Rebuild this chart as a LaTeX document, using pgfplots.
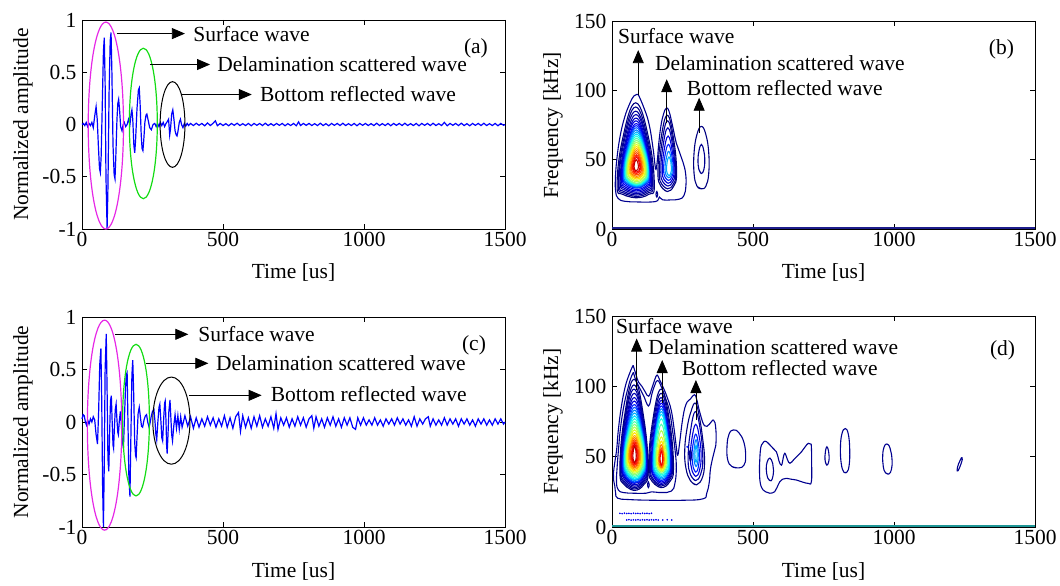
\documentclass[border=0pt]{standalone}
\usepackage{fontspec}
\setmainfont{Liberation Serif}
\usepackage{pgfplots}
\pgfplotsset{compat=1.18}
\usetikzlibrary{arrows.meta}
\newcommand{\myfont}{\fontsize{21.5}{24}\selectfont}
\definecolor{J01}{HTML}{000080}
\definecolor{J02}{HTML}{00008F}
\definecolor{J03}{HTML}{00009F}
\definecolor{J04}{HTML}{0000AF}
\definecolor{J05}{HTML}{0000C4}
\definecolor{J06}{HTML}{0000DA}
\definecolor{J07}{HTML}{0000F0}
\definecolor{J08}{HTML}{0020FF}
\definecolor{J09}{HTML}{0050FF}
\definecolor{J10}{HTML}{0080FF}
\definecolor{J11}{HTML}{00B0FF}
\definecolor{J12}{HTML}{00E0FF}
\definecolor{J13}{HTML}{20FFE0}
\definecolor{J14}{HTML}{50FFB0}
\definecolor{J15}{HTML}{80FF80}
\definecolor{J16}{HTML}{B0FF50}
\definecolor{J17}{HTML}{E0FF20}
\definecolor{J18}{HTML}{FFE000}
\definecolor{J19}{HTML}{FFB000}
\definecolor{J20}{HTML}{FF8000}
\definecolor{J21}{HTML}{FF5000}
\definecolor{J22}{HTML}{FF2000}
\definecolor{J23}{HTML}{F00000}
\definecolor{J24}{HTML}{C00000}
\definecolor{mag}{RGB}{230,40,230}
\definecolor{grn}{RGB}{20,220,20}
\definecolor{teal2}{RGB}{30,150,150}
\tikzset{
 arr/.style={-{Triangle[length=13pt,width=11pt]}, line width=0.8pt, black},
 lab/.style={font=\myfont, anchor=west, inner sep=0pt},
}
\pgfplotsset{
 base/.style={scale only axis, anchor=south west, width=423pt, xmin=0, xmax=1500,
   xtick={0,500,1000,1500}, xticklabels={0,500,1000,1500},
   tick align=inside, major tick length=5pt,
   every tick/.append style={black, line width=0.6pt},
   axis line style={black, line width=0.8pt},
   tick label style={font=\myfont}, label style={font=\myfont}, clip=false,
   xlabel={Time [us]},
   ylabel style={at={(axis description cs:-0.1395,0.5)}, anchor=center},
   yticklabel style={xshift=-2pt}},
 wave/.style={blue, line width=1.2pt, no markers},
 ct/.style={smooth, tension=0.75, line width=1.1pt, no markers},
}
\begin{document}
\begin{tikzpicture}
\path[use as bounding box] (0,0) rectangle (1060pt,586pt);
% ---------------- (a)
\begin{axis}[base, at={(82pt,357pt)}, height=209pt, ymin=-1, ymax=1,
  ytick={-1,-0.5,0,0.5,1}, yticklabels={-1,-0.5,0,0.5,1},
  ylabel={Normalized amplitude},
  xlabel style={at={(axis description cs:0.5,-0.206)}, anchor=center}]
\addplot[wave] coordinates {(0,0)(5,0.01)(10,-0.01)(15,0.02)(20,-0.02)(25,0.01)(30,-0.01)(35,0.02)(40,-0.03)(45,0.08)(50,0.17)(54,0.05)(58,-0.2)(62,-0.42)(65,-0.46)(68,-0.3)(72,0.2)(76,0.7)(79,0.83)(82,0.4)(85,-0.5)(89,-1.0)(92,-0.6)(96,0.3)(100,0.8)(103,0.88)(106,0.5)(110,-0.2)(114,-0.48)(117,-0.52)(120,-0.3)(124,0.05)(127,0.2)(130,0.24)(133,0.15)(137,-0.02)(142,-0.06)(146,0)(150,0.02)(155,-0.02)(160,0)(165,0.05)(170,0)(174,0.1)(177,0.14)(180,0.05)(184,-0.2)(187,-0.27)(190,-0.15)(195,0.15)(200,0.33)(203,0.35)(206,0.2)(210,-0.1)(213,-0.23)(216,-0.25)(219,-0.15)(223,0.02)(227,0.09)(230,0.1)(234,0.05)(240,-0.03)(246,-0.05)(252,0)(258,0.01)(263,-0.02)(268,0.01)(273,-0.02)(278,0.02)(283,-0.01)(288,0.02)(293,-0.02)(298,0.01)(303,0.03)(307,0.05)(311,-0.1)(314,-0.04)(318,0.1)(322,0.14)(326,0.05)(330,-0.06)(334,-0.1)(337,-0.11)(340,-0.07)(345,0.02)(349,0.05)(353,0)(358,-0.03)(363,0.01)(368,-0.015)(373,0.01)(378,-0.01)
(385,0.01)(395,-0.01)(405,0.012)(415,-0.008)(425,0.01)(435,-0.012)(445,0.015)(455,-0.01)(465,0.012)(473,0.035)(480,-0.012)(490,0.01)(500,-0.01)(510,0.008)(520,-0.012)(530,0.01)(540,-0.008)(550,0.012)(560,-0.01)(570,0.008)(580,-0.01)(590,0.01)(600,-0.012)(610,0.01)(620,-0.008)(630,0.01)(640,-0.01)(650,0.012)(660,-0.01)(670,0.008)(680,-0.01)(690,0.01)(700,-0.008)(710,0.01)(720,-0.012)(730,0.008)(740,-0.01)(750,0.01)(760,-0.012)(768,0.025)(775,-0.01)(785,0.01)(795,-0.008)(805,0.01)(815,-0.01)(825,0.008)(835,-0.01)(845,0.012)(855,-0.01)(865,0.008)(875,-0.012)(885,0.01)(895,-0.008)(905,0.01)(915,-0.01)(925,0.012)(935,-0.01)(945,0.008)(955,-0.01)(965,0.01)(975,-0.012)(985,0.01)(995,-0.008)(1005,0.01)(1015,-0.01)(1025,0.008)(1035,-0.01)(1045,0.012)(1055,-0.01)(1065,0.008)(1075,-0.01)(1085,0.01)(1095,-0.012)(1105,0.01)(1115,-0.008)(1125,0.01)(1135,-0.01)(1145,0.012)(1155,-0.01)(1165,0.008)(1175,-0.01)(1185,0.01)(1195,-0.012)(1205,0.01)(1215,-0.008)(1225,0.01)(1235,-0.01)(1245,0.012)(1255,-0.01)(1265,0.008)(1275,-0.01)(1285,0.02)(1295,-0.012)(1305,0.01)(1315,-0.008)(1325,0.01)(1335,-0.01)(1345,0.012)(1355,-0.01)(1365,0.008)(1375,-0.012)(1385,0.01)(1395,-0.008)(1405,0.01)(1415,-0.01)(1425,0.012)(1435,-0.01)(1445,0.008)(1455,-0.01)(1465,0.01)(1475,-0.012)(1485,0.01)(1495,-0.008)(1500,0)};
\draw[mag, line width=1.2pt] (axis cs:84.6,-0.01) ellipse [x radius=62.5, y radius=0.99];
\draw[grn, line width=1.2pt] (axis cs:217.5,0.01) ellipse [x radius=49.5, y radius=0.72];
\draw[black, line width=1.0pt] (axis cs:321,0) ellipse [x radius=44, y radius=0.41];
\draw[arr] (axis cs:123,0.87) -- (axis cs:365,0.87);
\node[lab] at (axis cs:394,0.87) {Surface wave};
\draw[arr] (axis cs:241,0.574) -- (axis cs:454,0.574);
\node[lab] at (axis cs:479,0.574) {Delamination scattered wave};
\draw[arr] (axis cs:354,0.287) -- (axis cs:602,0.287);
\node[lab] at (axis cs:631,0.287) {Bottom reflected wave};
\node[font=\myfont] at (axis cs:1397,0.727) {(a)};
\end{axis}
% ---------------- (b)
\begin{axis}[base, at={(612pt,357pt)}, height=208pt, ymin=0, ymax=150,
  ytick={0,50,100,150}, yticklabels={0,50,100,150},
  ylabel={Frequency [kHz]},
  xlabel style={at={(axis description cs:0.5,-0.207)}, anchor=center}]
\addplot[color={rgb,255:red,30;green,30;blue,140}, line width=2pt] coordinates {(0,0.7)(1500,0.7)};
\addplot[ct, J02] coordinates {(93,97)(112,88)(131,76)(145,59)(152,47)(156,43)(161,50)(166,62)(174,75)(183,83)(192,87)(202,85)(214,75)(228,62)(240,55)(252,48)(261,40)(262,31)(255,24)(238,21.5)(210,21)(180,21)(168,23)(162,20.5)(140,19.5)(90,19.5)(45,20)(22,22)(13,27)(12,36)(17,50)(28,66)(44,80)(62,90)(78,96)(93,97)};
\addplot[ct, J02] coordinates {(159,27)(162,25)(159,23)(156,25)(159,27)(162,25)};
% lobe 1
\addplot[ct, J01] coordinates {(84,22.5)(37.8,25)(18,31)(36.5,64)(84,91)(131.5,64)(150,31)(130.2,25)(84,22.5)(37.8,25)};
\addplot[ct, J02] coordinates {(84,23.5)(40.6,26)(22,32)(39.4,62.8)(84,88)(128.6,62.8)(146,32)(127.4,26)(84,23.5)(40.6,26)};
\addplot[ct, J03] coordinates {(84,24.5)(42.7,27)(25,33)(41.5,61.6)(84,85)(126.5,61.6)(143,33)(125.3,27)(84,24.5)(42.7,27)};
\addplot[ct, J04] coordinates {(85,25.5)(45.8,28)(29,34)(44.7,60.7)(85,82.5)(125.3,60.7)(141,34)(124.2,28)(85,25.5)(45.8,28)};
\addplot[ct, J05] coordinates {(85,26.5)(47.5,29)(31.5,35)(46.5,59.7)(85,80)(123.5,59.7)(138.5,35)(122.5,29)(85,26.5)(47.5,29)};
\addplot[ct, J06] coordinates {(85,27.5)(49.3,30)(34,36)(48.3,59.1)(85,78)(121.7,59.1)(136,36)(120.7,30)(85,27.5)(49.3,30)};
\addplot[ct, J07] coordinates {(86,28.5)(51.7,31)(37,37)(50.7,58.4)(86,76)(121.3,58.4)(135,37)(120.3,31)(86,28.5)(51.7,31)};
\addplot[ct, J08] coordinates {(86,29.5)(53.1,32)(39,38)(52.2,58.1)(86,74.5)(119.8,58.1)(133,38)(118.9,32)(86,29.5)(53.1,32)};
\addplot[ct, J09] coordinates {(86,30)(54.2,32.7)(40.5,39)(53.2,57.7)(86,73)(118.8,57.7)(131.5,39)(117.8,32.7)(86,30)(54.2,32.7)};
\addplot[ct, J10] coordinates {(86,30.5)(55.2,33)(42,39)(54.3,56.9)(86,71.5)(117.7,56.9)(130,39)(116.8,33)(86,30.5)(55.2,33)};
\addplot[ct, J11] coordinates {(87,31)(57.2,33.7)(44.5,40)(56.4,56.5)(87,70)(117.6,56.5)(129.5,40)(116.8,33.7)(87,31)(57.2,33.7)};
\addplot[ct, J12] coordinates {(87,31.5)(58.3,34)(46,40)(57.5,55.7)(87,68.5)(116.5,55.7)(128,40)(115.7,34)(87,31.5)(58.3,34)};
\addplot[ct, J13] coordinates {(87,32)(59.7,34.7)(48,41)(58.9,55.3)(87,67)(115.1,55.3)(126,41)(114.3,34.7)(87,32)(59.7,34.7)};
\addplot[ct, J14] coordinates {(87,32.5)(61.1,35)(50,41)(60.4,54.5)(87,65.5)(113.6,54.5)(124,41)(112.9,35)(87,32.5)(61.1,35)};
\addplot[ct, J15] coordinates {(87,33)(62.5,35.4)(52,41)(61.8,53.6)(87,64)(112.2,53.6)(122,41)(111.5,35.4)(87,33)(62.5,35.4)};
\addplot[ct, J16] coordinates {(87,34)(64.2,36.4)(54.5,42)(63.6,53.3)(87,62.5)(110.4,53.3)(119.5,42)(109.8,36.4)(87,34)(64.2,36.4)};
\addplot[ct, J17] coordinates {(87,35)(66,37.1)(57,42)(65.4,52.4)(87,61)(108.6,52.4)(117,42)(108,37.1)(87,35)(66,37.1)};
\addplot[ct, J18] coordinates {(87,36)(68.1,38.1)(60,43)(67.6,52.1)(87,59.5)(106.4,52.1)(114,43)(105.9,38.1)(87,36)(68.1,38.1)};
\addplot[ct, J19] coordinates {(87,37)(70.2,38.8)(63,43)(69.7,51.2)(87,58)(104.3,51.2)(111,43)(103.8,38.8)(87,37)(70.2,38.8)};
\addplot[ct, J20] coordinates {(87,38)(72.3,39.5)(66,43)(71.9,50.4)(87,56.5)(102.1,50.4)(108,43)(101.7,39.5)(87,38)(72.3,39.5)};
\addplot[ct, J21] coordinates {(87,39)(74.4,40.5)(69,44)(74,50)(87,55)(100,50)(105,44)(99.6,40.5)(87,39)(74.4,40.5)};
\addplot[ct, J22] coordinates {(87,40)(76.5,41.2)(72,44)(76.2,49.2)(87,53.5)(97.8,49.2)(102,44)(97.5,41.2)(87,40)(76.5,41.2)};
\addplot[ct, J23] coordinates {(87,41)(78.6,41.9)(75,44)(78.4,48.4)(87,52)(95.6,48.4)(99,44)(95.4,41.9)(87,41)(78.6,41.9)};
\addplot[ct, J24] coordinates {(86,42)(80.4,42.9)(78,45)(80.2,47.7)(86,50)(91.8,47.7)(94,45)(91.6,42.9)(86,42)(80.4,42.9)};
% lobe 2
\addplot[ct, J01] coordinates {(196,27)(173,31)(163,40)(172.2,63.1)(196,82)(219.8,63.1)(229,40)(219,31)(196,27)(173,31)};
\addplot[ct, J02] coordinates {(197,29)(176.7,32.3)(168,40)(176.1,60.9)(197,78)(217.9,60.9)(226,40)(217.3,32.3)(197,29)(176.7,32.3)};
\addplot[ct, J04] coordinates {(198,31)(180.5,34)(173,41)(180,58.6)(198,73)(216,58.6)(223,41)(215.5,34)(198,31)(180.5,34)};
\addplot[ct, J06] coordinates {(199,33)(184.3,35.7)(178,42)(183.9,55.7)(199,67)(214.1,55.7)(220,42)(213.7,35.7)(199,33)(184.3,35.7)};
\addplot[ct, J08] coordinates {(200,35)(188.1,37.4)(183,43)(187.8,52.9)(200,61)(212.2,52.9)(217,43)(211.9,37.4)(200,35)(188.1,37.4)};
\addplot[ct, J10] coordinates {(201,37)(191.9,38.8)(188,43)(191.6,50.1)(201,56)(210.4,50.1)(214,43)(210.1,38.8)(201,37)(191.9,38.8)};
\addplot[ct, J11] coordinates {(202,38.5)(195.7,40.2)(193,44)(195.5,48.4)(202,52)(208.5,48.4)(211,44)(208.3,40.2)(202,38.5)(195.7,40.2)};
% lobe 3
\addplot[ct, J01] coordinates {(317,29)(301,31)(291,40)(291,55)(301,68)(317,74)(333,68)(343,55)(343,40)(333,31)(317,29)(301,31)};
\addplot[ct, J02] coordinates {(317,40)(308,43)(305,50)(309,57)(317,61)(325,57)(329,50)(326,43)(317,40)(308,43)};
\draw[arr] (axis cs:93,96.6) -- (axis cs:93,129);
\node[lab] at (axis cs:21,139) {Surface wave};
\draw[arr] (axis cs:194,76.4) -- (axis cs:194,108);
\node[lab] at (axis cs:152,119.7) {Delamination scattered wave};
\draw[arr] (axis cs:309,69.2) -- (axis cs:309,94.7);
\node[lab] at (axis cs:265,101.7) {Bottom reflected wave};
\node[font=\myfont] at (axis cs:1381,129.8) {(b)};
\end{axis}
% ---------------- (c)
\begin{axis}[base, at={(82pt,59pt)}, height=210pt, ymin=-1, ymax=1,
  ytick={-1,-0.5,0,0.5,1}, yticklabels={-1,-0.5,0,0.5,1},
  ylabel={Normalized amplitude},
  xlabel style={at={(axis description cs:0.5,-0.21)}, anchor=center}]
\addplot[wave] coordinates {(0,0.03)(4,0.07)(8,0.06)(12,0)(16,-0.03)(20,0.02)(25,-0.02)(30,0.03)(35,0)(40,0.05)(45,0.02)(50,-0.12)(55,-0.21)(59,0.1)(63,0.55)(67,0.7)(70,0.2)(73,-0.6)(76,-1.0)(79,-0.4)(82,0.5)(86,0.84)(89,0.3)(92,-0.35)(95,-0.47)(98,-0.1)(101,0.2)(104,0.25)(107,0)(110,-0.22)(112,-0.25)(115,-0.05)(118,0.12)(121,0.17)(124,0.02)(127,-0.1)(129,-0.12)(132,0)(136,0.1)(139,0)(143,-0.18)(147,-0.25)(150,0)(154,0.3)(157,0.45)(160,0.47)(163,0)(166,-0.5)(170,-0.71)(173,-0.2)(177,0.45)(180,0.59)(183,0.3)(187,-0.2)(190,-0.32)(192,-0.34)(195,-0.15)(199,0.08)(203,0.14)(207,0.05)(211,-0.04)(215,-0.05)(220,0.02)(225,0.06)(229,0.07)(233,0)(238,-0.05)(242,0)(246,0.06)(250,0.1)(255,0.12)(259,0)(262,-0.12)(265,-0.17)(269,0)(273,0.14)(276,0.17)(280,0)(283,-0.15)(286,-0.18)(290,0.05)(293,0.18)(295,0.2)(298,0)(300,-0.22)(302,-0.3)(305,-0.12)(308,0.1)(312,0.21)(315,0.05)(318,-0.12)(321,-0.18)(325,-0.05)(330,0.07)(335,-0.06)(340,0.06)(345,-0.07)(350,0.05)
(355,-0.05)(365,0.06)(375,-0.04)(385,0.05)(395,-0.06)(405,0.04)(415,-0.05)(425,0.03)(435,-0.04)(445,0.05)(455,-0.03)(465,0.04)(475,-0.05)(485,0.03)(495,-0.04)(505,0.06)(515,-0.05)(525,0.04)(535,-0.06)(545,0.05)(555,0.09)(562,-0.09)(570,0.06)(580,-0.05)(590,0.04)(600,-0.06)(610,0.05)(620,-0.04)(630,0.06)(640,-0.05)(650,0.03)(660,-0.04)(670,0.05)(680,-0.06)(688,0.08)(695,-0.07)(705,0.04)(715,-0.03)(725,0.04)(735,-0.05)(745,0.03)(755,-0.04)(765,0.05)(775,-0.03)(785,0.04)(795,-0.05)(805,0.03)(815,0.06)(822,-0.06)(830,0.05)(840,-0.04)(850,0.03)(860,-0.05)(870,0.04)(880,-0.03)(890,0.05)(900,-0.04)(910,0.03)(920,-0.05)(930,0.04)(940,-0.03)(950,0.04)(960,-0.05)(970,-0.07)(978,0.04)(988,-0.03)(998,0.04)(1008,-0.03)(1018,0.02)(1028,-0.03)(1038,0.04)(1048,-0.03)(1058,0.02)(1068,-0.04)(1078,0.03)(1088,-0.02)(1098,0.03)(1108,-0.03)(1118,0.04)(1128,-0.02)(1138,0.03)(1148,-0.03)(1158,0.02)(1168,-0.04)(1178,0.05)(1188,-0.04)(1198,0.03)(1208,-0.02)(1218,0.03)(1228,0.05)(1235,-0.04)(1245,0.03)(1255,-0.03)(1265,0.02)(1275,-0.03)(1285,0.04)(1295,-0.03)(1305,0.03)(1315,-0.02)(1325,0.03)(1335,-0.04)(1345,0.03)(1355,-0.02)(1365,0.03)(1375,-0.03)(1385,0.02)(1395,-0.04)(1405,0.03)(1415,-0.02)(1425,0.03)(1435,-0.03)(1445,0.02)(1455,-0.03)(1465,0.03)(1475,-0.02)(1485,0.03)(1495,-0.02)(1500,0)};
\draw[mag, line width=1.2pt] (axis cs:80,-0.03) ellipse [x radius=61, y radius=1.0];
\draw[grn, line width=1.2pt] (axis cs:191.5,0.018) ellipse [x radius=47.5, y radius=0.722];
\draw[black, line width=1.0pt] (axis cs:317,0.013) ellipse [x radius=66, y radius=0.415];
\draw[arr] (axis cs:117,0.835) -- (axis cs:377,0.835);
\node[lab] at (axis cs:412,0.84) {Surface wave};
\draw[arr] (axis cs:227,0.559) -- (axis cs:448,0.559);
\node[lab] at (axis cs:475,0.56) {Delamination scattered wave};
\draw[arr] (axis cs:381,0.254) -- (axis cs:637,0.254);
\node[lab] at (axis cs:669,0.265) {Bottom reflected wave};
\node[font=\myfont] at (axis cs:1390,0.731) {(c)};
\end{axis}
% ---------------- (d)
\begin{axis}[base, at={(612pt,59pt)}, height=211pt, ymin=0, ymax=150,
  ytick={0,50,100,150}, yticklabels={0,50,100,150},
  ylabel={Frequency [kHz]},
  xlabel style={at={(axis description cs:0.5,-0.209)}, anchor=center}]
\addplot[teal2, line width=2pt] coordinates {(0,0.7)(1500,0.7)};
\addplot[only marks, mark=*, mark size=0.6pt, J07] coordinates {(28,9.7)(36,9.5)(44,9.8)(52,9.6)(60,9.7)(68,9.5)(76,9.8)(84,9.6)(92,9.7)(100,9.5)(108,9.8)(116,9.6)(124,9.7)(132,9.5)(140,9.7)(52,5)(60,5.2)(68,4.9)(76,5.1)(84,5)(92,5.2)(100,4.9)(108,5.1)(116,5)(124,5.2)(132,4.9)(140,5.1)(148,5)(156,5.2)(164,4.9)(180,5)(196,5.1)(212,5)};
% merged outer contours
\addplot[ct, J02] coordinates {(75,115)(84,109)(94,103)(106,100)(118,96)(130,93)(142,99)(152,105)(160,108)(168,105)(182,99)(196,92)(210,83)(220,70)(228,57)(233,51)(240,60)(250,76)(262,87)(278,91)(292,94)(300,91)(312,81)(328,72)(345,73)(360,76)(368,70)(368,58)(358,50)(349,41)(345,32)(336,24)(322,20)(250,19)(150,19)(60,19.5)(20,20.5)(13,24)(10,29)(6,33)(5,38)(10,46)(17,56)(22,68)(32,84)(46,99)(62,109)(75,115)};
\addplot[ct, J02] coordinates {(76,110)(85,104)(100,98)(115,92)(125,87)(133,87)(142,95)(152,101)(160,104)(170,102)(185,94)(203,83)(215,68)(224,54)(228,42)(223,31)(210,25.5)(175,24.5)(140,25)(120,24)(80,24)(40,24.5)(22,26.5)(16,32)(18,42)(23,55)(30,70)(42,86)(57,99)(67,106)(76,110)};
\addplot[ct, J02] coordinates {(129,32)(132,30)(129,28)(126,30)(129,32)(132,30)};
% lobe 1
\addplot[ct, J01] coordinates {(78,26)(43,30.2)(28,40)(42,75.7)(78,105)(114,75.7)(128,40)(113,30.2)(78,26)(43,30.2)};
\addplot[ct, J02] coordinates {(78,27)(44,31.2)(29.5,41)(43.1,74)(78,101)(112.9,74)(126.5,41)(112,31.2)(78,27)(44,31.2)};
\addplot[ct, J03] coordinates {(78,28)(45.1,32.2)(31,42)(44.2,72.8)(78,98)(111.8,72.8)(125,42)(110.9,32.2)(78,28)(45.1,32.2)};
\addplot[ct, J04] coordinates {(79,29)(47.2,33.2)(33.5,43)(46.2,71.6)(79,95)(111.8,71.6)(124.5,43)(110.8,33.2)(79,29)(47.2,33.2)};
\addplot[ct, J05] coordinates {(79,30)(48.2,34.2)(35,44)(47.3,70.4)(79,92)(110.7,70.4)(123,44)(109.8,34.2)(79,30)(48.2,34.2)};
\addplot[ct, J06] coordinates {(79,31)(49.2,34.9)(36.5,44)(48.4,69)(79,89.5)(109.6,69)(121.5,44)(108.8,34.9)(79,31)(49.2,34.9)};
\addplot[ct, J08] coordinates {(79,31.5)(50.3,35.5)(38,45)(49.5,68.1)(79,87)(108.5,68.1)(120,45)(107.7,35.5)(79,31.5)(50.3,35.5)};
\addplot[ct, J09] coordinates {(80,32)(52.3,35.9)(40.5,45)(51.6,67)(80,85)(108.4,67)(119.5,45)(107.7,35.9)(80,32)(52.3,35.9)};
\addplot[ct, J10] coordinates {(80,33)(53.4,36.9)(42,46)(52.6,66.3)(80,83)(107.4,66.3)(118,46)(106.6,36.9)(80,33)(53.4,36.9)};
\addplot[ct, J11] coordinates {(80,33.5)(54.1,37.2)(43,46)(53.4,65.2)(80,81)(106.6,65.2)(117,46)(105.9,37.2)(80,33.5)(54.1,37.2)};
\addplot[ct, J12] coordinates {(80,34)(54.8,37.9)(44,47)(54.1,64.6)(80,79)(105.9,64.6)(116,47)(105.2,37.9)(80,34)(54.8,37.9)};
\addplot[ct, J13] coordinates {(80,35)(56.2,38.6)(46,47)(55.5,63.5)(80,77)(104.5,63.5)(114,47)(103.8,38.6)(80,35)(56.2,38.6)};
\addplot[ct, J14] coordinates {(80,36)(57.6,39.6)(48,48)(57,62.8)(80,75)(103,62.8)(112,48)(102.4,39.6)(80,36)(57.6,39.6)};
\addplot[ct, J15] coordinates {(80,37)(59,40.3)(50,48)(58.4,61.7)(80,73)(101.6,61.7)(110,48)(101,40.3)(80,37)(59,40.3)};
\addplot[ct, J16] coordinates {(80,38)(60.4,41.3)(52,49)(59.8,61.1)(80,71)(100.2,61.1)(108,49)(99.6,41.3)(80,38)(60.4,41.3)};
\addplot[ct, J17] coordinates {(80,39)(61.8,42)(54,49)(61.3,60)(80,69)(98.7,60)(106,49)(98.2,42)(80,39)(61.8,42)};
\addplot[ct, J18] coordinates {(80,40)(63.5,43)(56.5,50)(63.1,59.3)(80,67)(96.9,59.3)(103.5,50)(96.5,43)(80,40)(63.5,43)};
\addplot[ct, J19] coordinates {(80,41)(65.3,43.7)(59,50)(64.9,58.2)(80,65)(95.1,58.2)(101,50)(94.7,43.7)(80,41)(65.3,43.7)};
\addplot[ct, J20] coordinates {(80,42)(67.4,44.7)(62,51)(67,57.9)(80,63.5)(93,57.9)(98,51)(92.6,44.7)(80,42)(67.4,44.7)};
\addplot[ct, J21] coordinates {(80,43)(69.5,45.4)(65,51)(69.2,57)(80,62)(90.8,57)(95,51)(90.5,45.4)(80,43)(69.5,45.4)};
\addplot[ct, J22] coordinates {(80,44)(71.6,46.1)(68,51)(71.4,56.2)(80,60.5)(88.6,56.2)(92,51)(88.4,46.1)(80,44)(71.6,46.1)};
\addplot[ct, J23] coordinates {(80,45)(73.7,46.8)(71,51)(73.5,55.4)(80,59)(86.5,55.4)(89,51)(86.3,46.8)(80,45)(73.7,46.8)};
\addplot[ct, J24] coordinates {(80,46)(75.8,47.5)(74,51)(75.7,54.6)(80,57.5)(84.3,54.6)(86,51)(84.2,47.5)(80,46)(75.8,47.5)};
% lobe 2
\addplot[ct, J01] coordinates {(174,28)(143.2,32.2)(130,42)(142.3,72.8)(174,98)(205.7,72.8)(218,42)(204.8,32.2)(174,28)(143.2,32.2)};
\addplot[ct, J02] coordinates {(174,29)(145.3,33.2)(133,43)(144.5,71.6)(174,95)(203.5,71.6)(215,43)(202.7,33.2)(174,29)(145.3,33.2)};
\addplot[ct, J04] coordinates {(174,30)(147.4,33.9)(136,43)(146.6,70)(174,92)(201.4,70)(212,43)(200.6,33.9)(174,30)(147.4,33.9)};
\addplot[ct, J05] coordinates {(175,31)(150.2,34.9)(139.5,44)(149.4,69.3)(175,90)(200.6,69.3)(210.5,44)(199.8,34.9)(175,31)(150.2,34.9)};
\addplot[ct, J07] coordinates {(175,32)(151.9,35.6)(142,44)(151.2,68.2)(175,88)(198.8,68.2)(208,44)(198.1,35.6)(175,32)(151.9,35.6)};
\addplot[ct, J08] coordinates {(175,33)(153.3,36.6)(144,45)(152.7,67.5)(175,86)(197.3,67.5)(206,45)(196.7,36.6)(175,33)(153.3,36.6)};
\addplot[ct, J10] coordinates {(175,34)(154.3,37.3)(145.5,45)(153.8,66.4)(175,84)(196.2,66.4)(204.5,45)(195.7,37.3)(175,34)(154.3,37.3)};
\addplot[ct, J11] coordinates {(175,35)(155.4,38.3)(147,46)(154.8,65.8)(175,82)(195.2,65.8)(203,46)(194.6,38.3)(175,35)(155.4,38.3)};
\addplot[ct, J12] coordinates {(175,36)(156.4,39)(148.5,46)(155.9,64.7)(175,80)(194.1,64.7)(201.5,46)(193.6,39)(175,36)(156.4,39)};
\addplot[ct, J13] coordinates {(175,37)(158.2,40)(151,47)(157.7,63.5)(175,77)(192.3,63.5)(199,47)(191.8,40)(175,37)(158.2,40)};
\addplot[ct, J14] coordinates {(175,38)(160.3,40.7)(154,47)(159.9,61.3)(175,73)(190.1,61.3)(196,47)(189.7,40.7)(175,38)(160.3,40.7)};
\addplot[ct, J16] coordinates {(175,39)(162.4,41.7)(157,48)(162,59.3)(175,68.5)(188,59.3)(193,48)(187.6,41.7)(175,39)(162.4,41.7)};
\addplot[ct, J17] coordinates {(175,40)(164.5,42.4)(160,48)(164.2,56.8)(175,64)(185.8,56.8)(190,48)(185.5,42.4)(175,40)(164.5,42.4)};
\addplot[ct, J18] coordinates {(175,41)(166.6,43.1)(163,48)(166.4,55.1)(175,61)(183.6,55.1)(187,48)(183.4,43.1)(175,41)(166.6,43.1)};
\addplot[ct, J20] coordinates {(175,42)(168.3,43.8)(165.5,48)(168.2,53.8)(175,58.5)(181.8,53.8)(184.5,48)(181.7,43.8)(175,42)(168.3,43.8)};
\addplot[ct, J21] coordinates {(175,43)(170.1,44.8)(168,49)(170,52.8)(175,56)(180,52.8)(182,49)(179.9,44.8)(175,43)(170.1,44.8)};
\addplot[ct, J23] coordinates {(175,44)(171.9,45.5)(170.5,49)(171.8,51.7)(175,54)(178.2,51.7)(179.5,49)(178.1,45.5)(175,44)(171.9,45.5)};
% lobe 3
\addplot[ct, J01] coordinates {(300,30)(278,33)(262,42)(258,55)(266,70)(280,82)(296,88)(310,78)(322,62)(328,48)(322,36)(300,30)(278,33)};
\addplot[ct, J03] coordinates {(296,33)(277.8,37.5)(270,48)(277.3,66.7)(296,82)(314.7,66.7)(322,48)(314.2,37.5)(296,33)(277.8,37.5)};
\addplot[ct, J06] coordinates {(297,36)(283.7,40.2)(278,50)(283.3,62.6)(297,73)(310.7,62.6)(316,50)(310.3,40.2)(297,36)(283.7,40.2)};
\addplot[ct, J08] coordinates {(297,39)(287.9,42.6)(284,51)(287.6,59.2)(297,66)(306.4,59.2)(310,51)(306.1,42.6)(297,39)(287.9,42.6)};
\addplot[ct, J10] coordinates {(298,43)(292.4,45.7)(290,52)(292.2,57.5)(298,62)(303.8,57.5)(306,52)(303.6,45.7)(298,43)(292.4,45.7)};
\addplot[ct, J11] coordinates {(298,46)(295.2,47.8)(294,52)(295.1,55.3)(298,58)(300.9,55.3)(302,52)(300.8,47.8)(298,46)(295.2,47.8)};
\addplot[ct, J02] coordinates {(278,47)(274,51)(278,55)(282,51)(278,47)(274,51)};
\addplot[only marks, mark=*, mark size=0.8pt, J08] coordinates {(267,57)};
% isolated contours
\addplot[ct, J02] coordinates {(450,42)(425,43)(410,48)(408,58)(415,66)(430,69)(450,67)(468,60)(474,50)(468,44)(450,42)(425,43)};
\addplot[ct, J02] coordinates {(548,60.6)(566,57)(583,53.5)(592,47)(601,44)(607,49)(613,52.4)(622,48)(631,45.3)(645,48)(660,51)(672,53.5)(685,57)(696,59.5)(704,59)(707,57)(708,45)(707,32.2)(696,31)(675,32)(654,33.4)(635,34)(619,34.6)(605,34)(595,32.2)(585,28)(577,25.1)(560,24)(545,25)(536,26.3)(526,31)(523,40)(524,47.6)(526,54)(530,58.3)(538,60.5)(548,60.6)(566,57)};
\addplot[ct, J02] coordinates {(560,33)(552,35)(547,41)(550,46)(560,49)(570,45)(573,40)(568,34)(560,33)(552,35)};
\addplot[ct, J02] coordinates {(762,44)(757,46)(755,50)(757,54)(762,57)(768,54)(770,50)(768,46)(762,44)(757,46)};
\addplot[ct, J02] coordinates {(833,39)(822,39)(813,45)(810,56)(815,66)(827,70)(838,66)(843,55)(841,44)(833,39)(822,39)};
\addplot[ct, J02] coordinates {(982,37.7)(970,38.5)(962,43)(960,51)(965,57)(975,59)(986,56)(993,48)(991,41)(982,37.7)(970,38.5)};
\addplot[ct, J02] coordinates {(1240,49.5)(1242,48)(1236,44)(1227,40)(1224,41)(1229,45)(1240,49.5)};
\draw[arr] (axis cs:87.4,97.4) -- (axis cs:87.4,134);
\node[lab] at (axis cs:14,142.9) {Surface wave};
\draw[arr] (axis cs:178,87.9) -- (axis cs:178,118.7);
\node[lab] at (axis cs:128.7,128) {Delamination scattered wave};
\draw[arr] (axis cs:297.5,76) -- (axis cs:297.5,104.5);
\node[lab] at (axis cs:247,112.8) {Bottom reflected wave};
\node[font=\myfont] at (axis cs:1385,125.8) {(d)};
\end{axis}
\end{tikzpicture}
\end{document}
